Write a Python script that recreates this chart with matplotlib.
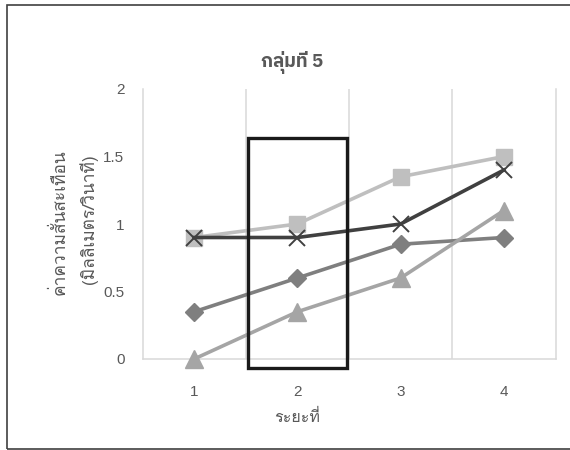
import matplotlib
matplotlib.use("Agg")
import matplotlib.pyplot as plt
from matplotlib.patches import Rectangle

# Data
periods = [1, 2, 3, 4]
series_diamond = [0.35, 0.6, 0.85, 0.9]
series_square = [0.9, 1.0, 1.35, 1.5]
series_triangle = [0.0, 0.35, 0.6, 1.1]
series_cross = [0.9, 0.9, 1.0, 1.4]
y_ticks = [0, 0.5, 1, 1.5, 2]
y_tick_labels = ["0", "0.5", "1", "1.5", "2"]
title_text = "กลุ่มที่ 5"
x_label = "ระยะที่"
y_label_1 = "ค่าความสั่นสะเทือน"
y_label_2 = "(มิลลิเมตร/วินาที)"
# highlighted span around period 2 (x from, x to, y from, y to)
box_x = (1.52, 2.48)
box_y = (-0.07, 1.64)

num_font = ["Liberation Sans", "Loma", "DejaVu Sans"]
thai_font = ["Loma", "Liberation Sans", "DejaVu Sans"]
title_font = ["IBM Plex Sans Thai", "Liberation Sans", "DejaVu Sans"]

fig = plt.figure(figsize=(5.7, 4.5), dpi=100)
ax = fig.add_axes([142.5 / 570, 1 - 359 / 450, 413 / 570, 270 / 450])

ax.set_xlim(0.5, 4.5)
ax.set_ylim(0, 2)

grid_c = "#D9D9D9"
ax.spines["top"].set_visible(False)
for s in ["left", "right", "bottom"]:
    ax.spines[s].set_color(grid_c)
    ax.spines[s].set_linewidth(1.1)
for gx in [1.5, 2.5, 3.5]:
    ax.axvline(gx, color=grid_c, lw=1.1, zorder=0)

lw = 2.6
ax.plot(periods, series_diamond, color="#7F7F7F", lw=lw, marker="D", ms=9.5,
        zorder=3, clip_on=False)
ax.plot(periods, series_square, color="#BFBFBF", lw=lw, marker="s", ms=11,
        zorder=3, clip_on=False)
ax.plot(periods, series_triangle, color="#A5A5A5", lw=lw, marker="^", ms=13,
        zorder=3, clip_on=False)
ax.plot(periods, series_cross, color="#404040", lw=lw, marker="x", ms=11.5,
        mew=1.4, zorder=4, clip_on=False)

ax.add_patch(Rectangle((box_x[0], box_y[0]), box_x[1] - box_x[0], box_y[1] - box_y[0],
                       fill=False, ec="#1A1A1A", lw=2.4, zorder=5, clip_on=False))

ax.set_xticks(periods)
ax.set_xticklabels([str(p) for p in periods], family=num_font, fontsize=11, color="#595959")
ax.set_yticks(y_ticks)
ax.set_yticklabels(y_tick_labels, family=num_font, fontsize=11, color="#595959")
ax.tick_params(axis="both", length=0)
ax.tick_params(axis="x", pad=19)
ax.tick_params(axis="y", pad=13)

fig.text(292 / 570, 1 - 62 / 450, title_text, ha="center", va="center",
         family=title_font, fontsize=13.5, fontweight="bold", color="#595959")
fig.text(297 / 570, 1 - 418 / 450, x_label, ha="center", va="center",
         family=thai_font, fontsize=11.5, color="#595959")
fig.text(60 / 570, 1 - 222 / 450, y_label_1, ha="center", va="center", rotation=90,
         family=thai_font, fontsize=12.5, color="#595959")
fig.text(89 / 570, 1 - 219 / 450, y_label_2, ha="center", va="center", rotation=90,
         family=thai_font, fontsize=12.5, color="#595959")

# outer frame of the chart
fig.add_artist(Rectangle((7 / 570, 1 - 449 / 450), 1.2, 444 / 450, transform=fig.transFigure,
                         fill=False, ec="#404040", lw=1.2, clip_on=False))

fig.savefig("out.png", dpi=100)
